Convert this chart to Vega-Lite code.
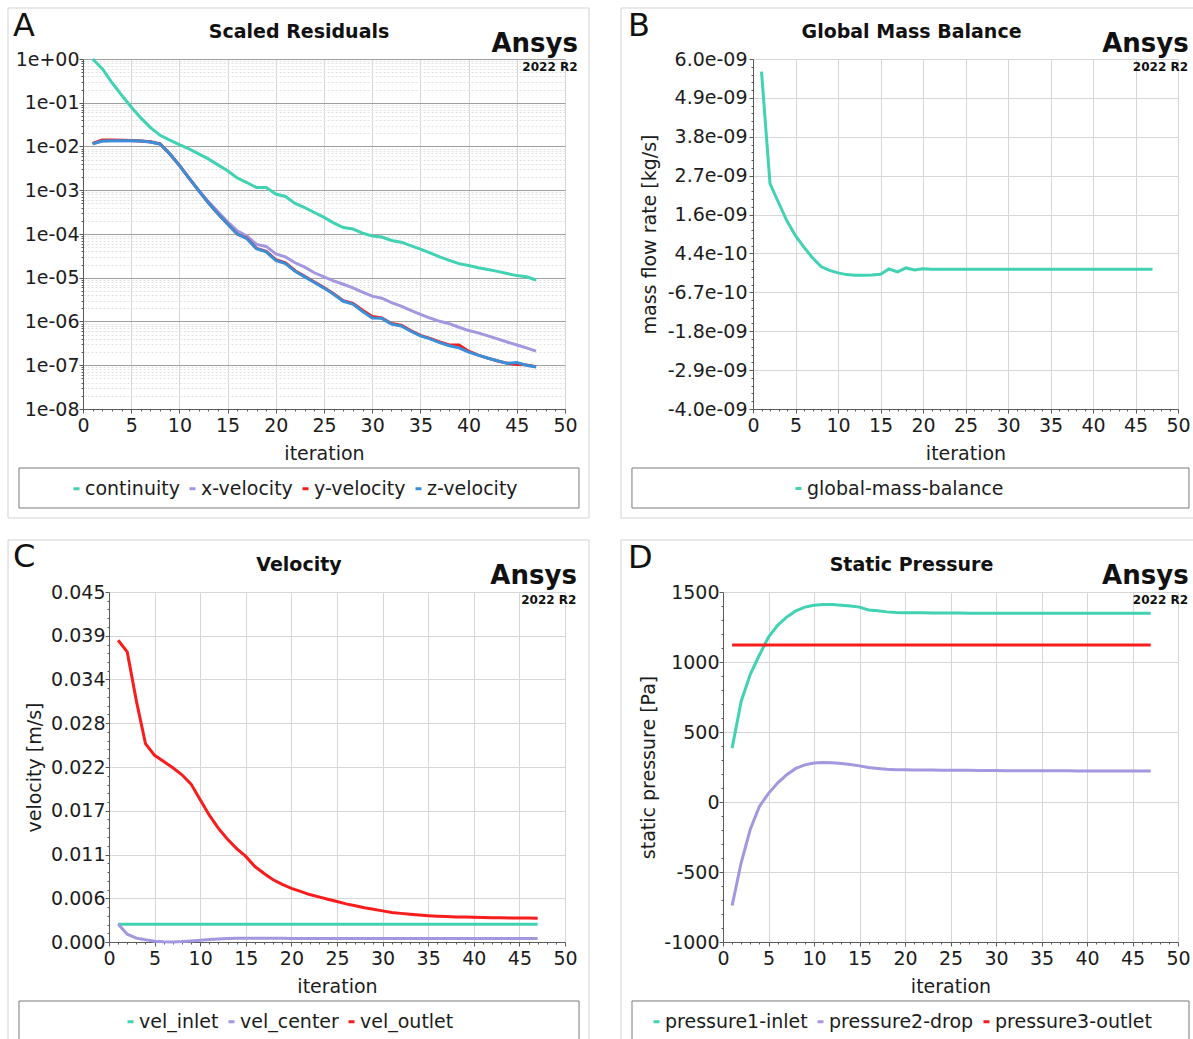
{
  "$schema": "https://vega.github.io/schema/vega-lite/v6.json",
  "padding": {"left": 6, "top": 7, "right": 0, "bottom": 0},
  "background": "#ffffff",
  "spacing": 20,
  "resolve": {"scale": {"color": "independent"}, "legend": {"color": "independent"}},
  "config": {
    "font": "DejaVu Sans",
    "view": {"stroke": null},
    "axis": {
      "labelFont": "DejaVu Sans", "labelFontSize": 19, "labelColor": "#1c1c1c",
      "titleFont": "DejaVu Sans", "titleFontSize": 19, "titleFontWeight": "normal", "titleColor": "#1c1c1c",
      "domainColor": "#5a5a5a", "tickColor": "#5a5a5a", "gridColor": "#d6d6d6",
      "tickSize": 4, "labelOverlap": false, "labelFlush": false
    },
    "legend": {
      "orient": "none", "direction": "horizontal", "title": null, "padding": 0,
      "labelFont": "DejaVu Sans", "labelFontSize": 19, "labelColor": "#1c1c1c", "labelLimit": 300,
      "symbolType": "stroke", "symbolStrokeWidth": 3, "symbolSize": 36,
      "labelOffset": -1, "columnPadding": 3
    },
    "text": {"font": "DejaVu Sans", "color": "#111111"}
  },
  "datasets": {
    "residuals": [
      {"iteration": 1, "continuity": 1.0, "x-velocity": 0.0115, "y-velocity": 0.0118, "z-velocity": 0.0115},
      {"iteration": 2, "continuity": 0.6, "x-velocity": 0.0133, "y-velocity": 0.014, "z-velocity": 0.0133},
      {"iteration": 3, "continuity": 0.29, "x-velocity": 0.0135, "y-velocity": 0.014, "z-velocity": 0.0135},
      {"iteration": 4, "continuity": 0.15, "x-velocity": 0.0136, "y-velocity": 0.0139, "z-velocity": 0.0136},
      {"iteration": 5, "continuity": 0.08, "x-velocity": 0.0136, "y-velocity": 0.0137, "z-velocity": 0.0136},
      {"iteration": 6, "continuity": 0.045, "x-velocity": 0.0133, "y-velocity": 0.0134, "z-velocity": 0.0133},
      {"iteration": 7, "continuity": 0.027, "x-velocity": 0.0127, "y-velocity": 0.0128, "z-velocity": 0.0127},
      {"iteration": 8, "continuity": 0.018, "x-velocity": 0.0114, "y-velocity": 0.0115, "z-velocity": 0.0114},
      {"iteration": 9, "continuity": 0.014, "x-velocity": 0.0068, "y-velocity": 0.0068, "z-velocity": 0.0068},
      {"iteration": 10, "continuity": 0.011, "x-velocity": 0.0037, "y-velocity": 0.0037, "z-velocity": 0.0037},
      {"iteration": 11, "continuity": 0.0088, "x-velocity": 0.0019, "y-velocity": 0.0019, "z-velocity": 0.0019},
      {"iteration": 12, "continuity": 0.0068, "x-velocity": 0.001, "y-velocity": 0.00098, "z-velocity": 0.00098},
      {"iteration": 13, "continuity": 0.0052, "x-velocity": 0.00055, "y-velocity": 0.00052, "z-velocity": 0.00052},
      {"iteration": 14, "continuity": 0.0038, "x-velocity": 0.00032, "y-velocity": 0.00029, "z-velocity": 0.00029},
      {"iteration": 15, "continuity": 0.0028, "x-velocity": 0.00019, "y-velocity": 0.00017, "z-velocity": 0.00017},
      {"iteration": 16, "continuity": 0.0019, "x-velocity": 0.000118, "y-velocity": 0.0001, "z-velocity": 0.0001},
      {"iteration": 17, "continuity": 0.0015, "x-velocity": 0.00009, "y-velocity": 0.00008, "z-velocity": 0.000078},
      {"iteration": 18, "continuity": 0.00115, "x-velocity": 0.000058, "y-velocity": 0.000047, "z-velocity": 0.000046},
      {"iteration": 19, "continuity": 0.00115, "x-velocity": 0.000052, "y-velocity": 0.00004, "z-velocity": 0.000039},
      {"iteration": 20, "continuity": 0.00082, "x-velocity": 0.000035, "y-velocity": 0.000026, "z-velocity": 0.000025},
      {"iteration": 21, "continuity": 0.00072, "x-velocity": 0.00003, "y-velocity": 0.000022, "z-velocity": 0.000021},
      {"iteration": 22, "continuity": 0.0005, "x-velocity": 0.000022, "y-velocity": 0.0000145, "z-velocity": 0.000014},
      {"iteration": 23, "continuity": 0.0004, "x-velocity": 0.0000175, "y-velocity": 0.0000108, "z-velocity": 0.0000105},
      {"iteration": 24, "continuity": 0.00031, "x-velocity": 0.000013, "y-velocity": 0.000008, "z-velocity": 0.0000078},
      {"iteration": 25, "continuity": 0.00024, "x-velocity": 0.0000105, "y-velocity": 0.000006, "z-velocity": 0.0000058},
      {"iteration": 26, "continuity": 0.00018, "x-velocity": 0.0000085, "y-velocity": 0.0000043, "z-velocity": 0.0000042},
      {"iteration": 27, "continuity": 0.00014, "x-velocity": 0.0000071, "y-velocity": 0.000003, "z-velocity": 0.0000029},
      {"iteration": 28, "continuity": 0.00013, "x-velocity": 0.0000059, "y-velocity": 0.0000026, "z-velocity": 0.0000025},
      {"iteration": 29, "continuity": 0.000105, "x-velocity": 0.0000047, "y-velocity": 0.0000018, "z-velocity": 0.0000017},
      {"iteration": 30, "continuity": 0.00009, "x-velocity": 0.0000038, "y-velocity": 0.0000013, "z-velocity": 0.0000012},
      {"iteration": 31, "continuity": 0.000085, "x-velocity": 0.0000034, "y-velocity": 0.0000012, "z-velocity": 0.00000118},
      {"iteration": 32, "continuity": 0.000071, "x-velocity": 0.0000027, "y-velocity": 0.0000009, "z-velocity": 0.00000087},
      {"iteration": 33, "continuity": 0.000065, "x-velocity": 0.00000225, "y-velocity": 0.00000082, "z-velocity": 0.00000079},
      {"iteration": 34, "continuity": 0.000054, "x-velocity": 0.0000018, "y-velocity": 0.00000062, "z-velocity": 0.0000006},
      {"iteration": 35, "continuity": 0.000045, "x-velocity": 0.00000145, "y-velocity": 0.00000048, "z-velocity": 0.00000047},
      {"iteration": 36, "continuity": 0.000037, "x-velocity": 0.0000012, "y-velocity": 0.00000041, "z-velocity": 0.0000004},
      {"iteration": 37, "continuity": 0.00003, "x-velocity": 0.00000101, "y-velocity": 0.00000034, "z-velocity": 0.00000033},
      {"iteration": 38, "continuity": 0.000025, "x-velocity": 0.00000089, "y-velocity": 0.00000029, "z-velocity": 0.00000028},
      {"iteration": 39, "continuity": 0.000021, "x-velocity": 0.00000074, "y-velocity": 0.00000029, "z-velocity": 0.00000025},
      {"iteration": 40, "continuity": 0.000019, "x-velocity": 0.00000062, "y-velocity": 0.00000021, "z-velocity": 0.0000002},
      {"iteration": 41, "continuity": 0.000017, "x-velocity": 0.00000055, "y-velocity": 0.00000017, "z-velocity": 0.00000017},
      {"iteration": 42, "continuity": 0.0000155, "x-velocity": 0.00000047, "y-velocity": 0.000000145, "z-velocity": 0.000000145},
      {"iteration": 43, "continuity": 0.000014, "x-velocity": 0.0000004, "y-velocity": 0.000000125, "z-velocity": 0.000000127},
      {"iteration": 44, "continuity": 0.0000125, "x-velocity": 0.00000034, "y-velocity": 0.000000112, "z-velocity": 0.00000011},
      {"iteration": 45, "continuity": 0.0000112, "x-velocity": 0.00000029, "y-velocity": 0.000000104, "z-velocity": 0.000000115},
      {"iteration": 46, "continuity": 0.0000105, "x-velocity": 0.00000025, "y-velocity": 0.000000102, "z-velocity": 0.0000001},
      {"iteration": 47, "continuity": 0.0000089, "x-velocity": 0.00000021, "y-velocity": 0.000000092, "z-velocity": 0.000000091}
    ],
    "massBalance": [
      {"iteration": 1, "global-mass-balance": 5.64e-9},
      {"iteration": 2, "global-mass-balance": 2.44e-9},
      {"iteration": 3, "global-mass-balance": 1.9e-9},
      {"iteration": 4, "global-mass-balance": 1.37e-9},
      {"iteration": 5, "global-mass-balance": 0.95e-9},
      {"iteration": 6, "global-mass-balance": 0.62e-9},
      {"iteration": 7, "global-mass-balance": 0.32e-9},
      {"iteration": 8, "global-mass-balance": 0.07e-9},
      {"iteration": 9, "global-mass-balance": -0.04e-9},
      {"iteration": 10, "global-mass-balance": -0.11e-9},
      {"iteration": 11, "global-mass-balance": -0.16e-9},
      {"iteration": 12, "global-mass-balance": -0.18e-9},
      {"iteration": 13, "global-mass-balance": -0.18e-9},
      {"iteration": 14, "global-mass-balance": -0.17e-9},
      {"iteration": 15, "global-mass-balance": -0.15e-9},
      {"iteration": 16, "global-mass-balance": 0.0},
      {"iteration": 17, "global-mass-balance": -0.08e-9},
      {"iteration": 18, "global-mass-balance": 0.03e-9},
      {"iteration": 19, "global-mass-balance": -0.03e-9},
      {"iteration": 20, "global-mass-balance": 0.005e-9},
      {"iteration": 21, "global-mass-balance": -0.005e-9},
      {"iteration": 22, "global-mass-balance": -0.005e-9},
      {"iteration": 23, "global-mass-balance": -0.005e-9},
      {"iteration": 24, "global-mass-balance": -0.005e-9},
      {"iteration": 25, "global-mass-balance": -0.005e-9},
      {"iteration": 26, "global-mass-balance": -0.005e-9},
      {"iteration": 27, "global-mass-balance": -0.005e-9},
      {"iteration": 28, "global-mass-balance": -0.005e-9},
      {"iteration": 29, "global-mass-balance": -0.005e-9},
      {"iteration": 30, "global-mass-balance": -0.005e-9},
      {"iteration": 31, "global-mass-balance": -0.005e-9},
      {"iteration": 32, "global-mass-balance": -0.005e-9},
      {"iteration": 33, "global-mass-balance": -0.005e-9},
      {"iteration": 34, "global-mass-balance": -0.005e-9},
      {"iteration": 35, "global-mass-balance": -0.005e-9},
      {"iteration": 36, "global-mass-balance": -0.005e-9},
      {"iteration": 37, "global-mass-balance": -0.005e-9},
      {"iteration": 38, "global-mass-balance": -0.005e-9},
      {"iteration": 39, "global-mass-balance": -0.005e-9},
      {"iteration": 40, "global-mass-balance": -0.005e-9},
      {"iteration": 41, "global-mass-balance": -0.005e-9},
      {"iteration": 42, "global-mass-balance": -0.005e-9},
      {"iteration": 43, "global-mass-balance": -0.005e-9},
      {"iteration": 44, "global-mass-balance": -0.005e-9},
      {"iteration": 45, "global-mass-balance": -0.005e-9},
      {"iteration": 46, "global-mass-balance": -0.005e-9},
      {"iteration": 47, "global-mass-balance": -0.005e-9}
    ],
    "velocity": [
      {"iteration": 1, "vel_inlet": 0.00227, "vel_center": 0.0023, "vel_outlet": 0.0388},
      {"iteration": 2, "vel_inlet": 0.00227, "vel_center": 0.001, "vel_outlet": 0.0373},
      {"iteration": 3, "vel_inlet": 0.00227, "vel_center": 0.0005, "vel_outlet": 0.031},
      {"iteration": 4, "vel_inlet": 0.00227, "vel_center": 0.00028, "vel_outlet": 0.0255},
      {"iteration": 5, "vel_inlet": 0.00227, "vel_center": 0.0001, "vel_outlet": 0.024},
      {"iteration": 6, "vel_inlet": 0.00227, "vel_center": 0.00003, "vel_outlet": 0.0232},
      {"iteration": 7, "vel_inlet": 0.00227, "vel_center": 0.0, "vel_outlet": 0.0224},
      {"iteration": 8, "vel_inlet": 0.00227, "vel_center": 0.00005, "vel_outlet": 0.0215},
      {"iteration": 9, "vel_inlet": 0.00227, "vel_center": 0.00014, "vel_outlet": 0.0203},
      {"iteration": 10, "vel_inlet": 0.00227, "vel_center": 0.00024, "vel_outlet": 0.0183},
      {"iteration": 11, "vel_inlet": 0.00227, "vel_center": 0.00032, "vel_outlet": 0.0163},
      {"iteration": 12, "vel_inlet": 0.00227, "vel_center": 0.00039, "vel_outlet": 0.0146},
      {"iteration": 13, "vel_inlet": 0.00227, "vel_center": 0.00044, "vel_outlet": 0.0132},
      {"iteration": 14, "vel_inlet": 0.00227, "vel_center": 0.00047, "vel_outlet": 0.012},
      {"iteration": 15, "vel_inlet": 0.00227, "vel_center": 0.00049, "vel_outlet": 0.011},
      {"iteration": 16, "vel_inlet": 0.00227, "vel_center": 0.00049, "vel_outlet": 0.0097},
      {"iteration": 17, "vel_inlet": 0.00227, "vel_center": 0.00048, "vel_outlet": 0.0088},
      {"iteration": 18, "vel_inlet": 0.00227, "vel_center": 0.00047, "vel_outlet": 0.008},
      {"iteration": 19, "vel_inlet": 0.00227, "vel_center": 0.00047, "vel_outlet": 0.0074},
      {"iteration": 20, "vel_inlet": 0.00227, "vel_center": 0.00046, "vel_outlet": 0.0069},
      {"iteration": 21, "vel_inlet": 0.00227, "vel_center": 0.00046, "vel_outlet": 0.0065},
      {"iteration": 22, "vel_inlet": 0.00227, "vel_center": 0.00046, "vel_outlet": 0.0061},
      {"iteration": 23, "vel_inlet": 0.00227, "vel_center": 0.00046, "vel_outlet": 0.0058},
      {"iteration": 24, "vel_inlet": 0.00227, "vel_center": 0.00046, "vel_outlet": 0.0055},
      {"iteration": 25, "vel_inlet": 0.00227, "vel_center": 0.00046, "vel_outlet": 0.0052},
      {"iteration": 26, "vel_inlet": 0.00227, "vel_center": 0.00046, "vel_outlet": 0.0049},
      {"iteration": 27, "vel_inlet": 0.00227, "vel_center": 0.00046, "vel_outlet": 0.00465},
      {"iteration": 28, "vel_inlet": 0.00227, "vel_center": 0.00045, "vel_outlet": 0.0044},
      {"iteration": 29, "vel_inlet": 0.00227, "vel_center": 0.00045, "vel_outlet": 0.0042},
      {"iteration": 30, "vel_inlet": 0.00227, "vel_center": 0.00045, "vel_outlet": 0.004},
      {"iteration": 31, "vel_inlet": 0.00227, "vel_center": 0.00045, "vel_outlet": 0.0038},
      {"iteration": 32, "vel_inlet": 0.00227, "vel_center": 0.00045, "vel_outlet": 0.00368},
      {"iteration": 33, "vel_inlet": 0.00227, "vel_center": 0.00045, "vel_outlet": 0.00356},
      {"iteration": 34, "vel_inlet": 0.00227, "vel_center": 0.00045, "vel_outlet": 0.00346},
      {"iteration": 35, "vel_inlet": 0.00227, "vel_center": 0.00045, "vel_outlet": 0.00338},
      {"iteration": 36, "vel_inlet": 0.00227, "vel_center": 0.00045, "vel_outlet": 0.00332},
      {"iteration": 37, "vel_inlet": 0.00227, "vel_center": 0.00045, "vel_outlet": 0.00327},
      {"iteration": 38, "vel_inlet": 0.00227, "vel_center": 0.00045, "vel_outlet": 0.00323},
      {"iteration": 39, "vel_inlet": 0.00227, "vel_center": 0.00045, "vel_outlet": 0.0032},
      {"iteration": 40, "vel_inlet": 0.00227, "vel_center": 0.00045, "vel_outlet": 0.00317},
      {"iteration": 41, "vel_inlet": 0.00227, "vel_center": 0.00045, "vel_outlet": 0.00315},
      {"iteration": 42, "vel_inlet": 0.00227, "vel_center": 0.00045, "vel_outlet": 0.00313},
      {"iteration": 43, "vel_inlet": 0.00227, "vel_center": 0.00045, "vel_outlet": 0.00311},
      {"iteration": 44, "vel_inlet": 0.00227, "vel_center": 0.00045, "vel_outlet": 0.00309},
      {"iteration": 45, "vel_inlet": 0.00227, "vel_center": 0.00045, "vel_outlet": 0.00308},
      {"iteration": 46, "vel_inlet": 0.00227, "vel_center": 0.00045, "vel_outlet": 0.00307},
      {"iteration": 47, "vel_inlet": 0.00227, "vel_center": 0.00045, "vel_outlet": 0.00306}
    ],
    "pressure": [
      {"iteration": 1, "pressure1-inlet": 385, "pressure2-drop": -740, "pressure3-outlet": 1122},
      {"iteration": 2, "pressure1-inlet": 720, "pressure2-drop": -432, "pressure3-outlet": 1122},
      {"iteration": 3, "pressure1-inlet": 912, "pressure2-drop": -195, "pressure3-outlet": 1122},
      {"iteration": 4, "pressure1-inlet": 1050, "pressure2-drop": -32, "pressure3-outlet": 1122},
      {"iteration": 5, "pressure1-inlet": 1178, "pressure2-drop": 62, "pressure3-outlet": 1122},
      {"iteration": 6, "pressure1-inlet": 1262, "pressure2-drop": 135, "pressure3-outlet": 1122},
      {"iteration": 7, "pressure1-inlet": 1321, "pressure2-drop": 195, "pressure3-outlet": 1122},
      {"iteration": 8, "pressure1-inlet": 1365, "pressure2-drop": 240, "pressure3-outlet": 1122},
      {"iteration": 9, "pressure1-inlet": 1392, "pressure2-drop": 265, "pressure3-outlet": 1122},
      {"iteration": 10, "pressure1-inlet": 1405, "pressure2-drop": 278, "pressure3-outlet": 1122},
      {"iteration": 11, "pressure1-inlet": 1410, "pressure2-drop": 282, "pressure3-outlet": 1122},
      {"iteration": 12, "pressure1-inlet": 1410, "pressure2-drop": 280, "pressure3-outlet": 1122},
      {"iteration": 13, "pressure1-inlet": 1406, "pressure2-drop": 275, "pressure3-outlet": 1122},
      {"iteration": 14, "pressure1-inlet": 1400, "pressure2-drop": 268, "pressure3-outlet": 1122},
      {"iteration": 15, "pressure1-inlet": 1392, "pressure2-drop": 258, "pressure3-outlet": 1122},
      {"iteration": 16, "pressure1-inlet": 1372, "pressure2-drop": 246, "pressure3-outlet": 1122},
      {"iteration": 17, "pressure1-inlet": 1366, "pressure2-drop": 240, "pressure3-outlet": 1122},
      {"iteration": 18, "pressure1-inlet": 1358, "pressure2-drop": 234, "pressure3-outlet": 1122},
      {"iteration": 19, "pressure1-inlet": 1354, "pressure2-drop": 231, "pressure3-outlet": 1122},
      {"iteration": 20, "pressure1-inlet": 1352, "pressure2-drop": 230, "pressure3-outlet": 1122},
      {"iteration": 21, "pressure1-inlet": 1351, "pressure2-drop": 229, "pressure3-outlet": 1122},
      {"iteration": 22, "pressure1-inlet": 1351, "pressure2-drop": 228, "pressure3-outlet": 1122},
      {"iteration": 23, "pressure1-inlet": 1350, "pressure2-drop": 228, "pressure3-outlet": 1122},
      {"iteration": 24, "pressure1-inlet": 1350, "pressure2-drop": 227, "pressure3-outlet": 1122},
      {"iteration": 25, "pressure1-inlet": 1350, "pressure2-drop": 227, "pressure3-outlet": 1122},
      {"iteration": 26, "pressure1-inlet": 1350, "pressure2-drop": 226, "pressure3-outlet": 1122},
      {"iteration": 27, "pressure1-inlet": 1349, "pressure2-drop": 226, "pressure3-outlet": 1122},
      {"iteration": 28, "pressure1-inlet": 1349, "pressure2-drop": 225, "pressure3-outlet": 1122},
      {"iteration": 29, "pressure1-inlet": 1349, "pressure2-drop": 225, "pressure3-outlet": 1122},
      {"iteration": 30, "pressure1-inlet": 1349, "pressure2-drop": 225, "pressure3-outlet": 1122},
      {"iteration": 31, "pressure1-inlet": 1349, "pressure2-drop": 224, "pressure3-outlet": 1122},
      {"iteration": 32, "pressure1-inlet": 1349, "pressure2-drop": 224, "pressure3-outlet": 1122},
      {"iteration": 33, "pressure1-inlet": 1349, "pressure2-drop": 224, "pressure3-outlet": 1122},
      {"iteration": 34, "pressure1-inlet": 1348, "pressure2-drop": 223, "pressure3-outlet": 1122},
      {"iteration": 35, "pressure1-inlet": 1348, "pressure2-drop": 223, "pressure3-outlet": 1122},
      {"iteration": 36, "pressure1-inlet": 1348, "pressure2-drop": 223, "pressure3-outlet": 1122},
      {"iteration": 37, "pressure1-inlet": 1348, "pressure2-drop": 223, "pressure3-outlet": 1122},
      {"iteration": 38, "pressure1-inlet": 1348, "pressure2-drop": 223, "pressure3-outlet": 1122},
      {"iteration": 39, "pressure1-inlet": 1348, "pressure2-drop": 222, "pressure3-outlet": 1122},
      {"iteration": 40, "pressure1-inlet": 1348, "pressure2-drop": 222, "pressure3-outlet": 1122},
      {"iteration": 41, "pressure1-inlet": 1348, "pressure2-drop": 222, "pressure3-outlet": 1122},
      {"iteration": 42, "pressure1-inlet": 1348, "pressure2-drop": 222, "pressure3-outlet": 1122},
      {"iteration": 43, "pressure1-inlet": 1348, "pressure2-drop": 222, "pressure3-outlet": 1122},
      {"iteration": 44, "pressure1-inlet": 1348, "pressure2-drop": 222, "pressure3-outlet": 1122},
      {"iteration": 45, "pressure1-inlet": 1348, "pressure2-drop": 222, "pressure3-outlet": 1122},
      {"iteration": 46, "pressure1-inlet": 1348, "pressure2-drop": 222, "pressure3-outlet": 1122},
      {"iteration": 47, "pressure1-inlet": 1348, "pressure2-drop": 222, "pressure3-outlet": 1122}
    ]
  },
  "vconcat": [
    {
      "spacing": 0,
      "resolve": {"scale": {"color": "independent"}, "legend": {"color": "independent"}},
      "hconcat": [
        {"width": 1, "height": 1, "data": {"values": [{}]}, "mark": {"type": "text", "text": ""}},
        {
          "spacing": 30,
          "resolve": {"scale": {"color": "independent"}, "legend": {"color": "independent"}},
          "hconcat": [
            {
              "width": 482, "height": 350,
              "resolve": {"axis": {"x": "independent", "y": "independent"}},
              "layer": [
                {
                  "layer": [
                    {
                      "data": {"values": [{}]},
                      "mark": {"type": "rect", "fillOpacity": 0, "stroke": "#d3d3d3", "strokeWidth": 1},
                      "encoding": {
                        "x": {"datum": -7.78, "type": "quantitative", "scale": {"domain": [0, 50], "nice": false}},
                        "x2": {"datum": 52.49},
                        "y": {"datum": 14.65, "type": "quantitative", "scale": {"type": "log", "domain": [1e-8, 1], "nice": false}},
                        "y2": {"datum": 3.23e-11}
                      }
                    },
                    {
                      "data": {"values": [{}]},
                      "mark": {"type": "rect", "fillOpacity": 0, "stroke": "#7a7a7a", "strokeWidth": 1},
                      "encoding": {
                        "x": {"datum": -6.64, "type": "quantitative"},
                        "x2": {"datum": 51.45},
                        "y": {"datum": 4.48e-10, "type": "quantitative"},
                        "y2": {"datum": 5.46e-11}
                      }
                    },
                    {
                      "data": {"values": [{}]},
                      "mark": {"type": "text", "text": "A", "fontSize": 32, "align": "left", "baseline": "alphabetic"},
                      "encoding": {"x": {"datum": -7.26, "type": "quantitative"}, "y": {"datum": 3.36, "type": "quantitative"}}
                    },
                    {
                      "data": {"values": [{}]},
                      "mark": {"type": "text", "text": "Scaled Residuals", "fontSize": 19, "fontWeight": "bold", "align": "center", "baseline": "alphabetic"},
                      "encoding": {"x": {"datum": 22.41, "type": "quantitative"}, "y": {"datum": 3.02, "type": "quantitative"}}
                    },
                    {
                      "data": {"values": [{}]},
                      "mark": {"type": "text", "text": "Ansys", "fontSize": 26, "fontWeight": "bold", "align": "right", "baseline": "alphabetic"},
                      "encoding": {"x": {"datum": 51.35, "type": "quantitative"}, "y": {"datum": 1.445, "type": "quantitative"}}
                    },
                    {
                      "data": {"values": [{}]},
                      "mark": {"type": "text", "text": "2022 R2", "fontSize": 12, "fontWeight": "bold", "align": "right", "baseline": "alphabetic"},
                      "encoding": {"x": {"datum": 51.3, "type": "quantitative"}, "y": {"datum": 0.532, "type": "quantitative"}}
                    },
                    {
                      "data": {"name": "residuals"},
                      "transform": [{"fold": ["continuity", "x-velocity", "y-velocity", "z-velocity"], "as": ["equation", "residual"]}],
                      "mark": {"type": "line", "strokeWidth": 3},
                      "encoding": {
                        "x": {
                          "field": "iteration", "type": "quantitative", "scale": {"domain": [0, 50], "nice": false},
                          "axis": {"values": [0, 5, 10, 15, 20, 25, 30, 35, 40, 45, 50], "tickCount": 50, "title": "iteration", "grid": true, "gridColor": "#d6d6d6", "labelPadding": 3, "titleY": 44, "titleBaseline": "middle", "labelOverlap": false, "labelFlush": false}
                        },
                        "y": {
                          "field": "residual", "type": "quantitative", "scale": {"type": "log", "domain": [1e-8, 1], "nice": false},
                          "axis": {"values": [1e-8, 1e-7, 1e-6, 1e-5, 1e-4, 1e-3, 1e-2, 1e-1, 1], "tickCount": 50, "labelExpr": "replace(replace(format(datum.value, '.0e'), 'e+', 'e+0'), 'e-', 'e-0')", "title": null, "grid": true, "gridColor": "#a0a0a0", "labelPadding": 0, "labelOverlap": false}
                        },
                        "color": {
                          "field": "equation", "type": "nominal",
                          "scale": {"domain": ["continuity", "x-velocity", "y-velocity", "z-velocity"], "range": ["#40d2b2", "#a596e0", "#f81c1c", "#3a8fd9"]},
                          "legend": {"legendX": -16, "legendY": 420}
                        }
                      }
                    }
                  ]
                },
                {
                  "data": {"values": [{}]},
                  "mark": {"type": "point", "opacity": 0},
                  "encoding": {
                    "x": {"datum": 10, "type": "quantitative", "axis": {"orient": "bottom", "values": [1, 2, 3, 4, 6, 7, 8, 9, 11, 12, 13, 14, 16, 17, 18, 19, 21, 22, 23, 24, 26, 27, 28, 29, 31, 32, 33, 34, 36, 37, 38, 39, 41, 42, 43, 44, 46, 47, 48, 49], "tickCount": 500, "labels": false, "grid": false, "domain": false, "tickSize": 2, "title": null}},
                    "y": {"datum": 0.001, "type": "quantitative", "axis": {"orient": "left", "values": [2e-8, 3e-8, 4e-8, 5e-8, 6e-8, 7e-8, 8e-8, 9e-8, 2e-7, 3e-7, 4e-7, 5e-7, 6e-7, 7e-7, 8e-7, 9e-7, 2e-6, 3e-6, 4e-6, 5e-6, 6e-6, 7e-6, 8e-6, 9e-6, 2e-5, 3e-5, 4e-5, 5e-5, 6e-5, 7e-5, 8e-5, 9e-5, 2e-4, 3e-4, 4e-4, 5e-4, 6e-4, 7e-4, 8e-4, 9e-4, 0.002, 0.003, 0.004, 0.005, 0.006, 0.007, 0.008, 0.009, 0.02, 0.03, 0.04, 0.05, 0.06, 0.07, 0.08, 0.09, 0.2, 0.3, 0.4, 0.5, 0.6, 0.7, 0.8, 0.9], "tickCount": 500, "labels": false, "grid": true, "gridColor": "#e2e2e2", "gridDash": [2, 2], "domain": false, "tickSize": 2, "title": null}}
                  }
                }
              ]
            },
            {
              "width": 425, "height": 350,
              "resolve": {"axis": {"x": "independent", "y": "independent"}},
              "layer": [
                {
                  "layer": [
                    {
                      "data": {"values": [{}]},
                      "mark": {"type": "rect", "fillOpacity": 0, "stroke": "#d3d3d3", "strokeWidth": 1},
                      "encoding": {
                        "x": {"datum": -15.53, "type": "quantitative", "scale": {"domain": [0, 50], "nice": false}},
                        "x2": {"datum": 52.12},
                        "y": {"datum": 7.457e-9, "type": "quantitative", "scale": {"domain": [-4e-9, 6e-9], "nice": false}},
                        "y2": {"datum": -7.114e-9}
                      }
                    },
                    {
                      "data": {"values": [{}]},
                      "mark": {"type": "rect", "fillOpacity": 0, "stroke": "#7a7a7a", "strokeWidth": 1},
                      "encoding": {
                        "x": {"datum": -14.24, "type": "quantitative"},
                        "x2": {"datum": 51.29},
                        "y": {"datum": -5.686e-9, "type": "quantitative"},
                        "y2": {"datum": -6.829e-9}
                      }
                    },
                    {
                      "data": {"values": [{}]},
                      "mark": {"type": "text", "text": "B", "fontSize": 32, "align": "left", "baseline": "alphabetic"},
                      "encoding": {"x": {"datum": -14.7, "type": "quantitative"}, "y": {"datum": 6.657e-9, "type": "quantitative"}}
                    },
                    {
                      "data": {"values": [{}]},
                      "mark": {"type": "text", "text": "Global Mass Balance", "fontSize": 19, "fontWeight": "bold", "align": "center", "baseline": "alphabetic"},
                      "encoding": {"x": {"datum": 18.65, "type": "quantitative"}, "y": {"datum": 6.6e-9, "type": "quantitative"}}
                    },
                    {
                      "data": {"values": [{}]},
                      "mark": {"type": "text", "text": "Ansys", "fontSize": 26, "fontWeight": "bold", "align": "right", "baseline": "alphabetic"},
                      "encoding": {"x": {"datum": 51.26, "type": "quantitative"}, "y": {"datum": 6.2e-9, "type": "quantitative"}}
                    },
                    {
                      "data": {"values": [{}]},
                      "mark": {"type": "text", "text": "2022 R2", "fontSize": 12, "fontWeight": "bold", "align": "right", "baseline": "alphabetic"},
                      "encoding": {"x": {"datum": 51.18, "type": "quantitative"}, "y": {"datum": 5.657e-9, "type": "quantitative"}}
                    },
                    {
                      "data": {"name": "massBalance"},
                      "transform": [{"fold": ["global-mass-balance"], "as": ["report", "massFlow"]}],
                      "mark": {"type": "line", "strokeWidth": 3},
                      "encoding": {
                        "x": {
                          "field": "iteration", "type": "quantitative", "scale": {"domain": [0, 50], "nice": false},
                          "axis": {"values": [0, 5, 10, 15, 20, 25, 30, 35, 40, 45, 50], "tickCount": 50, "title": "iteration", "grid": true, "labelPadding": 3, "titleY": 44, "titleBaseline": "middle", "labelOverlap": false, "labelFlush": false}
                        },
                        "y": {
                          "field": "massFlow", "type": "quantitative", "scale": {"domain": [-4e-9, 6e-9], "nice": false},
                          "axis": {"values": [-4e-9, -2.888889e-9, -1.777778e-9, -6.66667e-10, 4.44444e-10, 1.555556e-9, 2.666667e-9, 3.777778e-9, 4.888889e-9, 6e-9], "tickCount": 50, "labelExpr": "replace(replace(format(datum.value, '.1e'), regexp('e-([0-9])$'), 'e-0$1'), '\u2212', '-')", "title": "mass flow rate [kg/s]", "titleX": -104, "titleY": 175, "titleAngle": -90, "titleBaseline": "middle", "titleAlign": "center", "grid": true, "labelPadding": 2, "labelOverlap": false}
                        },
                        "color": {
                          "field": "report", "type": "nominal",
                          "scale": {"domain": ["global-mass-balance"], "range": ["#40d2b2"]},
                          "legend": {"legendX": 36, "legendY": 420}
                        }
                      }
                    }
                  ]
                },
                {
                  "data": {"values": [{}]},
                  "mark": {"type": "point", "opacity": 0},
                  "encoding": {
                    "x": {"datum": 10, "type": "quantitative", "axis": {"orient": "bottom", "values": [1, 2, 3, 4, 6, 7, 8, 9, 11, 12, 13, 14, 16, 17, 18, 19, 21, 22, 23, 24, 26, 27, 28, 29, 31, 32, 33, 34, 36, 37, 38, 39, 41, 42, 43, 44, 46, 47, 48, 49], "tickCount": 500, "labels": false, "grid": false, "domain": false, "tickSize": 2, "title": null}},
                    "y": {"datum": 0, "type": "quantitative", "axis": {"orient": "left", "values": [-3.7778e-9, -3.5556e-9, -3.3333e-9, -3.1111e-9, -2.6667e-9, -2.4444e-9, -2.2222e-9, -2.0e-9, -1.5556e-9, -1.3333e-9, -1.1111e-9, -0.8889e-9, -0.4444e-9, -0.2222e-9, 0, 0.2222e-9, 0.6667e-9, 0.8889e-9, 1.1111e-9, 1.3333e-9, 1.7778e-9, 2.0e-9, 2.2222e-9, 2.4444e-9, 2.8889e-9, 3.1111e-9, 3.3333e-9, 3.5556e-9, 4.0e-9, 4.2222e-9, 4.4444e-9, 4.6667e-9, 5.1111e-9, 5.3333e-9, 5.5556e-9, 5.7778e-9], "tickCount": 500, "labels": false, "grid": false, "domain": false, "tickSize": 2, "title": null}}
                  }
                }
              ]
            }
          ]
        }
      ]
    },
    {
      "spacing": 0,
      "resolve": {"scale": {"color": "independent"}, "legend": {"color": "independent"}},
      "hconcat": [
        {"width": 1, "height": 1, "data": {"values": [{}]}, "mark": {"type": "text", "text": ""}},
        {
          "spacing": 30,
          "resolve": {"scale": {"color": "independent"}, "legend": {"color": "independent"}},
          "hconcat": [
            {
              "width": 456, "height": 350,
              "resolve": {"axis": {"x": "independent", "y": "independent"}},
              "layer": [
                {
                  "layer": [
                    {
                      "data": {"values": [{}]},
                      "mark": {"type": "rect", "fillOpacity": 0, "stroke": "#d3d3d3", "strokeWidth": 1},
                      "encoding": {
                        "x": {"datum": -11.07, "type": "quantitative", "scale": {"domain": [0, 50], "nice": false}},
                        "x2": {"datum": 52.63},
                        "y": {"datum": 0.051686, "type": "quantitative", "scale": {"domain": [0, 0.045], "nice": false}},
                        "y2": {"datum": -0.012729}
                      }
                    },
                    {
                      "data": {"values": [{}]},
                      "mark": {"type": "rect", "fillOpacity": 0, "stroke": "#7a7a7a", "strokeWidth": 1},
                      "encoding": {
                        "x": {"datum": -9.87, "type": "quantitative"},
                        "x2": {"datum": 51.54},
                        "y": {"datum": -0.007586, "type": "quantitative"},
                        "y2": {"datum": -0.012729}
                      }
                    },
                    {
                      "data": {"values": [{}]},
                      "mark": {"type": "text", "text": "C", "fontSize": 32, "align": "left", "baseline": "alphabetic"},
                      "encoding": {"x": {"datum": -10.53, "type": "quantitative"}, "y": {"datum": 0.048214, "type": "quantitative"}}
                    },
                    {
                      "data": {"values": [{}]},
                      "mark": {"type": "text", "text": "Velocity", "fontSize": 19, "fontWeight": "bold", "align": "center", "baseline": "alphabetic"},
                      "encoding": {"x": {"datum": 20.83, "type": "quantitative"}, "y": {"datum": 0.0477, "type": "quantitative"}}
                    },
                    {
                      "data": {"values": [{}]},
                      "mark": {"type": "text", "text": "Ansys", "fontSize": 26, "fontWeight": "bold", "align": "right", "baseline": "alphabetic"},
                      "encoding": {"x": {"datum": 51.3, "type": "quantitative"}, "y": {"datum": 0.046029, "type": "quantitative"}}
                    },
                    {
                      "data": {"values": [{}]},
                      "mark": {"type": "text", "text": "2022 R2", "fontSize": 12, "fontWeight": "bold", "align": "right", "baseline": "alphabetic"},
                      "encoding": {"x": {"datum": 51.25, "type": "quantitative"}, "y": {"datum": 0.043457, "type": "quantitative"}}
                    },
                    {
                      "data": {"name": "velocity"},
                      "transform": [{"fold": ["vel_inlet", "vel_center", "vel_outlet"], "as": ["surface", "speed"]}],
                      "mark": {"type": "line", "strokeWidth": 3},
                      "encoding": {
                        "x": {
                          "field": "iteration", "type": "quantitative", "scale": {"domain": [0, 50], "nice": false},
                          "axis": {"values": [0, 5, 10, 15, 20, 25, 30, 35, 40, 45, 50], "tickCount": 50, "title": "iteration", "grid": true, "labelPadding": 3, "titleY": 44, "titleBaseline": "middle", "labelOverlap": false, "labelFlush": false}
                        },
                        "y": {
                          "field": "speed", "type": "quantitative", "scale": {"domain": [0, 0.045], "nice": false},
                          "axis": {"values": [0, 0.005625, 0.01125, 0.016875, 0.0224999, 0.028125, 0.0337501, 0.039375, 0.045], "tickCount": 50, "format": ".3f", "title": "velocity [m/s]", "titleX": -75, "titleY": 175, "titleAngle": -90, "titleBaseline": "middle", "titleAlign": "center", "grid": true, "labelPadding": 0, "labelOverlap": false}
                        },
                        "color": {
                          "field": "surface", "type": "nominal",
                          "scale": {"domain": ["vel_inlet", "vel_center", "vel_outlet"], "range": ["#40d2b2", "#a596e0", "#f81c1c"]},
                          "legend": {"legendX": 12, "legendY": 420}
                        }
                      }
                    }
                  ]
                },
                {
                  "data": {"values": [{}]},
                  "mark": {"type": "point", "opacity": 0},
                  "encoding": {
                    "x": {"datum": 10, "type": "quantitative", "axis": {"orient": "bottom", "values": [1, 2, 3, 4, 6, 7, 8, 9, 11, 12, 13, 14, 16, 17, 18, 19, 21, 22, 23, 24, 26, 27, 28, 29, 31, 32, 33, 34, 36, 37, 38, 39, 41, 42, 43, 44, 46, 47, 48, 49], "tickCount": 500, "labels": false, "grid": false, "domain": false, "tickSize": 2, "title": null}},
                    "y": {"datum": 0.01, "type": "quantitative", "axis": {"orient": "left", "values": [0.001125, 0.00225, 0.003375, 0.0045, 0.00675, 0.007875, 0.009, 0.010125, 0.012375, 0.0135, 0.014625, 0.01575, 0.018, 0.019125, 0.02025, 0.021375, 0.023625, 0.02475, 0.025875, 0.027, 0.02925, 0.030375, 0.0315, 0.032625, 0.034875, 0.036, 0.037125, 0.03825, 0.0405, 0.041625, 0.04275, 0.043875], "tickCount": 500, "labels": false, "grid": false, "domain": false, "tickSize": 2, "title": null}}
                  }
                }
              ]
            },
            {
              "width": 455, "height": 350,
              "resolve": {"axis": {"x": "independent", "y": "independent"}},
              "layer": [
                {
                  "layer": [
                    {
                      "data": {"values": [{}]},
                      "mark": {"type": "rect", "fillOpacity": 0, "stroke": "#d3d3d3", "strokeWidth": 1},
                      "encoding": {
                        "x": {"datum": -11.21, "type": "quantitative", "scale": {"domain": [0, 50], "nice": false}},
                        "x2": {"datum": 51.98},
                        "y": {"datum": 1871.4, "type": "quantitative", "scale": {"domain": [-1000, 1500], "nice": false}},
                        "y2": {"datum": -1707.1}
                      }
                    },
                    {
                      "data": {"values": [{}]},
                      "mark": {"type": "rect", "fillOpacity": 0, "stroke": "#7a7a7a", "strokeWidth": 1},
                      "encoding": {
                        "x": {"datum": -10.0, "type": "quantitative"},
                        "x2": {"datum": 51.21},
                        "y": {"datum": -1421.4, "type": "quantitative"},
                        "y2": {"datum": -1707.1}
                      }
                    },
                    {
                      "data": {"values": [{}]},
                      "mark": {"type": "text", "text": "D", "fontSize": 32, "align": "left", "baseline": "alphabetic"},
                      "encoding": {"x": {"datum": -10.44, "type": "quantitative"}, "y": {"datum": 1671.4, "type": "quantitative"}}
                    },
                    {
                      "data": {"values": [{}]},
                      "mark": {"type": "text", "text": "Static Pressure", "fontSize": 19, "fontWeight": "bold", "align": "center", "baseline": "alphabetic"},
                      "encoding": {"x": {"datum": 20.71, "type": "quantitative"}, "y": {"datum": 1650, "type": "quantitative"}}
                    },
                    {
                      "data": {"values": [{}]},
                      "mark": {"type": "text", "text": "Ansys", "fontSize": 26, "fontWeight": "bold", "align": "right", "baseline": "alphabetic"},
                      "encoding": {"x": {"datum": 51.17, "type": "quantitative"}, "y": {"datum": 1557, "type": "quantitative"}}
                    },
                    {
                      "data": {"values": [{}]},
                      "mark": {"type": "text", "text": "2022 R2", "fontSize": 12, "fontWeight": "bold", "align": "right", "baseline": "alphabetic"},
                      "encoding": {"x": {"datum": 51.1, "type": "quantitative"}, "y": {"datum": 1414.3, "type": "quantitative"}}
                    },
                    {
                      "data": {"name": "pressure"},
                      "transform": [{"fold": ["pressure1-inlet", "pressure2-drop", "pressure3-outlet"], "as": ["surface", "staticPressure"]}],
                      "mark": {"type": "line", "strokeWidth": 3},
                      "encoding": {
                        "x": {
                          "field": "iteration", "type": "quantitative", "scale": {"domain": [0, 50], "nice": false},
                          "axis": {"values": [0, 5, 10, 15, 20, 25, 30, 35, 40, 45, 50], "tickCount": 50, "title": "iteration", "grid": true, "labelPadding": 3, "titleY": 44, "titleBaseline": "middle", "labelOverlap": false, "labelFlush": false}
                        },
                        "y": {
                          "field": "staticPressure", "type": "quantitative", "scale": {"domain": [-1000, 1500], "nice": false},
                          "axis": {"values": [-1000, -500, 0, 500, 1000, 1500], "tickCount": 50, "labelExpr": "replace(format(datum.value, 'd'), '\u2212', '-')", "title": "static pressure [Pa]", "titleX": -75, "titleY": 175, "titleAngle": -90, "titleBaseline": "middle", "titleAlign": "center", "grid": true, "labelPadding": 0, "labelOverlap": false}
                        },
                        "color": {
                          "field": "surface", "type": "nominal",
                          "scale": {"domain": ["pressure1-inlet", "pressure2-drop", "pressure3-outlet"], "range": ["#40d2b2", "#a596e0", "#f81c1c"]},
                          "legend": {"legendX": -76, "legendY": 420}
                        }
                      }
                    }
                  ]
                },
                {
                  "data": {"values": [{}]},
                  "mark": {"type": "point", "opacity": 0},
                  "encoding": {
                    "x": {"datum": 10, "type": "quantitative", "axis": {"orient": "bottom", "values": [1, 2, 3, 4, 6, 7, 8, 9, 11, 12, 13, 14, 16, 17, 18, 19, 21, 22, 23, 24, 26, 27, 28, 29, 31, 32, 33, 34, 36, 37, 38, 39, 41, 42, 43, 44, 46, 47, 48, 49], "tickCount": 500, "labels": false, "grid": false, "domain": false, "tickSize": 2, "title": null}},
                    "y": {"datum": 0, "type": "quantitative", "axis": {"orient": "left", "values": [-900, -800, -700, -600, -400, -300, -200, -100, 100, 200, 300, 400, 600, 700, 800, 900, 1100, 1200, 1300, 1400], "tickCount": 500, "labels": false, "grid": false, "domain": false, "tickSize": 2, "title": null}}
                  }
                }
              ]
            }
          ]
        }
      ]
    }
  ]
}
